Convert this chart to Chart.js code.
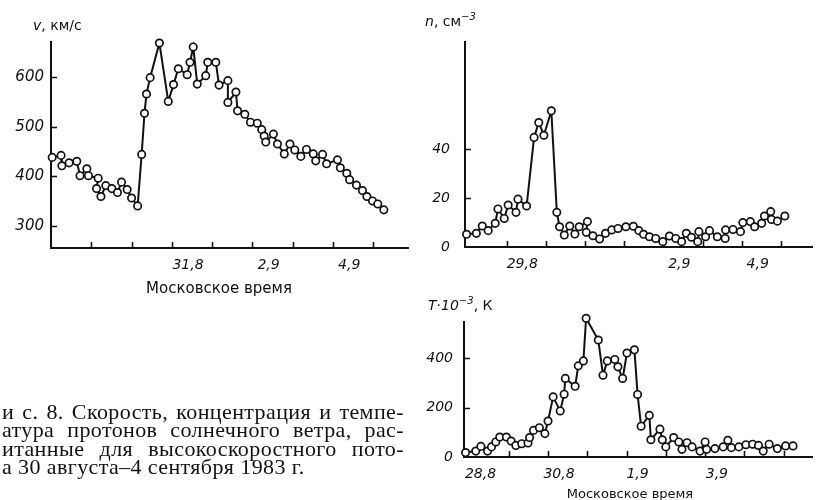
<!DOCTYPE html>
<html>
<head>
<meta charset="utf-8">
<script src="https://cdn.jsdelivr.net/npm/chart.js"></script>
<style>
  html, body { margin: 0; padding: 0; background: #fff; }
  #wrap { position: relative; width: 818px; height: 500px; overflow: hidden; background: #fff; }
  #wrap canvas { position: absolute; left: 0; top: 0; }
  .lbl { position: absolute; font-family: "DejaVu Sans", sans-serif; color: #111; white-space: nowrap; line-height: 1; }
  .lbl i { font-style: italic; }
  .lbl sup { font-size: 0.72em; font-style: italic; vertical-align: 0.55em; line-height: 0; }
  .ttl { position: absolute; font-family: "DejaVu Sans", sans-serif; color: #111; text-align: center; white-space: nowrap; line-height: 1; }
  .cap { position: absolute; left: 2px; top: 403px; width: 402px; font-family: "Liberation Serif", "DejaVu Serif", serif; font-size: 22px; letter-spacing: 0.4px; line-height: 18.3px; color: #111; }
  .cap div { text-align: justify; text-align-last: justify; white-space: nowrap; }
  .cap div.last { text-align: left; text-align-last: left; }
</style>
</head>
<body>
<div id="wrap">
  <canvas id="cv" width="818" height="500"></canvas>
  <canvas id="cn" width="818" height="500"></canvas>
  <canvas id="ct" width="818" height="500"></canvas>

  <div class="lbl" style="left:33px;top:18px;font-size:14px;"><i>v</i>, км/с</div>
  <div class="lbl" style="left:425px;top:14px;font-size:14px;"><i>n</i>, см<sup>−3</sup></div>
  <div class="lbl" style="left:428px;top:298px;font-size:14px;"><i>T</i>·<i>10</i><sup>−3</sup>, К</div>

  <div class="ttl" style="left:119px;top:281px;width:200px;font-size:15px;">Московское время</div>
  <div class="ttl" style="left:530px;top:487px;width:200px;font-size:13px;">Московское время</div>

  <div class="cap">
    <div>и с. 8. Скорость, концентрация и темпе-</div>
    <div>атура протонов солнечного ветра, рас-</div>
    <div>итанные для высокоскоростного пото-</div>
    <div class="last">а 30 августа–4 сентября 1983 г.</div>
  </div>
</div>

<script>
// ---------- Data: speed v, km/s ----------
const vDays = [0.03,0.25,0.27,0.45,0.64,0.72,0.89,0.93,1.17,1.13,1.24,1.36,1.51,1.65,1.75,1.89,2.00,2.15,2.25,2.32,2.37,2.46,2.69,2.91,3.04,3.16,3.38,3.45,3.53,3.63,3.84,3.89,4.09,4.17,4.39,4.39,4.59,4.63,4.81,4.95,5.12,5.23,5.29,5.33,5.52,5.62,5.79,5.93,6.05,6.20,6.34,6.51,6.57,6.74,6.84,7.11,7.18,7.34,7.41,7.58,7.73,7.84,7.98,8.11,8.26];
const vValues = [438,442,421,427,430,401,415,401,396,375,359,381,375,367,388,373,356,340,444,527,566,599,669,551,585,617,605,630,661,586,603,630,630,584,593,549,570,532,525,509,507,494,481,469,485,465,445,465,453,440,454,445,431,444,425,433,417,406,393,382,371,359,350,344,332];
const vYTicks = [300,400,500,600];
const vTickMarks = [1,2,3,4,5,6,7,8];
const vLabelPos = [3.4,5.4,7.4];
const vLabels = ['31,8','2,9','4,9'];

// ---------- Data: density n, cm^-3 ----------
const nDays = [-0.02,0.23,0.38,0.53,0.71,0.78,0.94,1.04,1.24,1.29,1.51,1.70,1.82,1.95,2.14,2.28,2.35,2.47,2.61,2.74,2.85,3.06,3.03,3.20,3.37,3.52,3.68,3.84,4.04,4.23,4.37,4.49,4.64,4.80,4.98,5.15,5.31,5.46,5.58,5.71,5.87,5.90,6.07,6.17,6.37,6.57,6.58,6.77,6.96,7.02,7.21,7.32,7.50,7.57,7.73,7.75,7.90,8.09];
const nValues = [5.2,5.6,8.6,6.7,9.7,15.6,11.7,17.2,14.2,19.6,16.8,44.9,51.0,45.8,55.8,14.2,8.3,4.9,8.6,5.3,8.3,10.4,6.0,4.6,3.3,5.6,7.0,7.6,8.3,8.5,6.7,5.2,4.2,3.5,2.2,4.5,3.5,2.2,5.6,4.0,2.2,6.3,4.2,6.7,4.2,3.5,7.0,7.2,6.3,10.0,10.4,8.3,9.7,12.7,14.5,11.3,10.6,12.7];
const nYTicks = [0,20,40];
const nTickMarks = [1,2,3,4,5,6,7,8];
const nLabelPos = [1.4,5.4,7.4];
const nLabels = ['29,8','2,9','4,9'];

// ---------- Data: temperature T*10^-3, K ----------
const tDays = [-0.10,0.16,0.29,0.46,0.56,0.67,0.77,0.94,1.06,1.18,1.33,1.49,1.53,1.63,1.78,1.92,2.00,2.13,2.31,2.41,2.44,2.69,2.77,2.90,2.97,3.28,3.40,3.51,3.70,3.78,3.90,4.01,4.20,4.28,4.37,4.58,4.62,4.85,4.91,5.00,5.20,5.33,5.41,5.54,5.67,5.87,6.00,6.04,6.25,6.46,6.58,6.67,6.86,7.04,7.21,7.36,7.48,7.63,7.84,8.05,8.24];
const tValues = [18,24,43,24,41,61,81,81,65,47,54,57,79,108,119,95,146,244,187,255,319,287,370,390,563,475,332,390,396,366,319,422,435,254,125,169,70,113,70,41,79,61,31,58,41,24,61,31,34,41,68,38,41,50,52,47,24,52,34,45,45];
const tYTicks = [0,200,400];
const tTickMarks = [1,2,3,4,5,6,7,8];
const tLabelPos = [0.28,2.28,4.28,6.3];
const tLabels = ['28,8','30,8','1,9','3,9'];

const INK = '#111';

const innerTicks = {
  id: 'innerTicks',
  beforeDatasetsDraw(chart, args, opts) {
    const ctx = chart.ctx;
    const xs = chart.scales.x, ys = chart.scales.y;
    ctx.save();
    ctx.strokeStyle = INK;
    ctx.lineWidth = 1.6;
    ctx.beginPath();
    opts.xMarks.forEach(d => {
      const px = Math.round(xs.getPixelForValue(d)) + 0.5;
      ctx.moveTo(px, ys.bottom);
      ctx.lineTo(px, ys.bottom - opts.len);
    });
    opts.yMarks.forEach(v => {
      const py = Math.round(ys.getPixelForValue(v)) + 0.5;
      ctx.moveTo(xs.left, py);
      ctx.lineTo(xs.left + opts.len, py);
    });
    ctx.stroke();
    ctx.restore();
  }
};

function makeChart(id, p) {
  const pts = p.days.map((d, i) => ({ x: d, y: p.values[i] }));
  return new Chart(document.getElementById(id), {
    type: 'line',
    data: {
      datasets: [{
        data: pts,
        borderColor: INK,
        borderWidth: 2,
        tension: 0,
        pointRadius: 3.7,
        pointBackgroundColor: '#fff',
        pointBorderColor: INK,
        pointBorderWidth: 1.7,
        clip: false
      }]
    },
    options: {
      responsive: false,
      animation: false,
      devicePixelRatio: 1,
      events: [],
      layout: { padding: p.padding },
      plugins: {
        legend: { display: false },
        tooltip: { enabled: false },
        innerTicks: { xMarks: p.xMarks, yMarks: p.yMarks, len: 6 }
      },
      scales: {
        x: {
          type: 'linear',
          min: p.xMin, max: p.xMax,
          grid: { display: true, drawOnChartArea: false, drawTicks: false },
          border: { display: true, color: INK, width: 2 },
          afterBuildTicks: s => { s.ticks = p.labelPos.map(v => ({ value: v })); },
          afterFit: s => { s.height = 40; },
          ticks: {
            autoSkip: false, maxRotation: 0, padding: p.xPad,
            color: INK,
            font: { family: 'DejaVu Sans', style: 'italic', size: 14 },
            callback: (val, i) => p.labels[i]
          }
        },
        y: {
          type: 'linear',
          min: p.yMin, max: p.yMax,
          grid: { display: true, drawOnChartArea: false, drawTicks: false },
          border: { display: true, color: INK, width: 2 },
          afterBuildTicks: s => { s.ticks = p.yTicks.map(v => ({ value: v })); },
          afterFit: s => { s.width = 45; },
          ticks: {
            padding: p.yPad,
            color: INK,
            font: { family: 'DejaVu Sans', style: 'italic', size: p.yFont },
            callback: v => String(v)
          }
        }
      }
    },
    plugins: [innerTicks]
  });
}

// Speed chart: area left 51, top 42, right 408, bottom 248
makeChart('cv', {
  days: vDays, values: vValues,
  xMin: 0, xMax: 8.86, yMin: 255, yMax: 671,
  yTicks: vYTicks, xMarks: vTickMarks, yMarks: vYTicks,
  labelPos: vLabelPos, labels: vLabels,
  padding: { left: 6, top: 42, right: 410, bottom: 212 },
  xPad: 9, yPad: 7, yFont: 15
});

// Density chart: area left 465, top 42, right 818, bottom 247
makeChart('cn', {
  days: nDays, values: nValues,
  xMin: -0.06, xMax: 8.79, yMin: 0, yMax: 84,
  yTicks: nYTicks, xMarks: nTickMarks, yMarks: [20, 40],
  labelPos: nLabelPos, labels: nLabels,
  padding: { left: 420, top: 42, right: 0, bottom: 213 },
  xPad: 9, yPad: 15, yFont: 14
});

// Temperature chart: area left 464, top 322, right 818, bottom 457
makeChart('ct', {
  days: tDays, values: tValues,
  xMin: -0.14, xMax: 8.73, yMin: 0, yMax: 548,
  yTicks: tYTicks, xMarks: tTickMarks, yMarks: [200, 400],
  labelPos: tLabelPos, labels: tLabels,
  padding: { left: 419, top: 322, right: 0, bottom: 3 },
  xPad: 9, yPad: 11, yFont: 14
});
</script>
</body>
</html>
